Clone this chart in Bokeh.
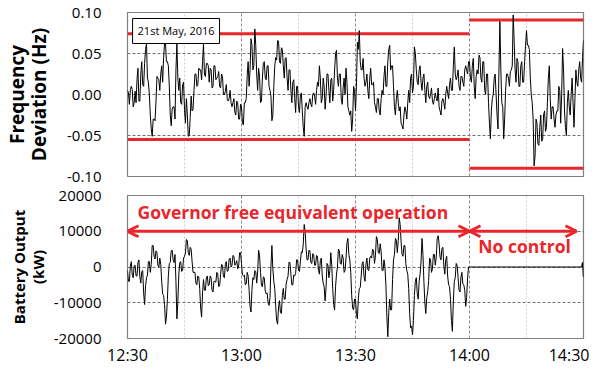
import pandas as pd
from bokeh.plotting import figure
from bokeh.layouts import column
from bokeh.models import (Range1d, FixedTicker, Label, Arrow, OpenHead,
                          NumeralTickFormatter)
from bokeh.embed import file_html
from bokeh.resources import INLINE

DATE = "2016-05-21"
tick_labels = ["12:30", "13:00", "13:30", "14:00", "14:30"]
minor_tick_labels = ["12:45", "13:15", "13:45", "14:15"]

# Frequency deviation (Hz), read at hh:mm:00 and hh:mm:30 from 12:30 to 14:30
freq_dev = [
    0.005, -0.012, 0.010, -0.015, 0.004, 0.018, -0.008, 0.025, 0.012, 0.038,
    0.062, 0.015, -0.025, -0.051, -0.030, -0.008, 0.020, 0.005, 0.035, 0.045,
    0.063, 0.040, 0.010, -0.038, -0.015, -0.030, 0.062, 0.005, -0.010, 0.012,
    -0.018, -0.005, -0.051, -0.028, -0.020, 0.005, 0.025, 0.012, 0.030, 0.018,
    0.062, 0.022, 0.038, 0.015, 0.030, 0.010, 0.035, 0.020, 0.028, 0.008,
    0.022, 0.000, 0.012, -0.008, 0.005, -0.015, -0.005, -0.025, -0.010, -0.030,
    -0.015, -0.037, -0.010, 0.023, 0.010, 0.068, 0.030, 0.080, 0.025, 0.032,
    -0.010, 0.020, 0.040, 0.018, 0.035, 0.005, -0.032, 0.010, 0.045, 0.066,
    0.040, 0.057, 0.035, 0.044, 0.020, 0.030, 0.005, 0.015, -0.005, 0.010,
    -0.015, -0.002, -0.020, -0.051, -0.010, -0.018, -0.005, -0.015, 0.002, -0.012,
    0.015, 0.035, -0.010, 0.020, -0.018, 0.025, 0.005, 0.018, -0.008, 0.030,
    0.054, 0.010, 0.025, -0.012, 0.020, 0.032, -0.015, -0.025, -0.045, 0.010,
    -0.020, 0.064, 0.078, 0.030, 0.044, 0.010, 0.025, -0.005, 0.032, 0.012,
    -0.010, -0.022, -0.005, -0.025, 0.005, 0.022, 0.010, 0.040, 0.060, 0.035,
    0.010, -0.025, 0.005, -0.020, -0.035, -0.042, -0.015, -0.030, 0.005, 0.020,
    0.002, 0.058, 0.030, 0.012, 0.035, 0.005, 0.025, -0.010, 0.015, -0.005,
    0.008, -0.012, 0.002, -0.008, -0.015, -0.025, -0.005, -0.018, 0.010, -0.005,
    0.020, 0.005, 0.058, 0.018, 0.030, 0.005, 0.022, 0.010, 0.035, 0.025,
    0.040, 0.015, 0.044, -0.005, 0.030, 0.048, 0.020, 0.040, 0.005, 0.025,
    -0.010, -0.054, -0.005, 0.020, 0.000, -0.042, 0.089, -0.010, -0.054, 0.005,
    0.025, 0.010, 0.030, 0.097, 0.030, 0.044, 0.010, 0.035, 0.015, 0.040,
    0.078, 0.060, 0.020, -0.010, -0.087, -0.030, -0.060, -0.040, -0.057, -0.025,
    -0.045, -0.010, 0.035, -0.030, -0.015, -0.040, -0.020, 0.010, -0.035, 0.056,
    -0.020, -0.050, 0.005, -0.025, 0.020, -0.040, 0.030, 0.010, 0.040, 0.015,
    0.066,
]
# Frequency deviation (Hz), read at hh:mm:15 and hh:mm:45
freq_dev_q = [
    0.002, 0.006, 0.006, -0.010, -0.010, 0.032, -0.008, 0.040, 0.010, 0.055,
    0.020, 0.000, -0.042, -0.030, -0.032, 0.022, 0.018, 0.025, 0.015, 0.062,
    0.040, 0.035, -0.025, -0.018, -0.015, 0.030, 0.020, 0.020, -0.012, 0.015,
    -0.035, -0.025, -0.050, -0.002, -0.018, 0.025, 0.010, 0.032, 0.030, 0.040,
    0.025, 0.038, 0.035, 0.032, 0.008, 0.035, 0.018, 0.022, 0.010, 0.025,
    0.000, 0.004, -0.006, -0.005, -0.010, -0.010, -0.022, -0.008, -0.030, -0.012,
    -0.035, -0.010, -0.005, 0.040, 0.030, 0.060, 0.035, 0.060, 0.005, 0.022,
    -0.008, 0.038, 0.020, 0.035, 0.010, -0.002, -0.025, 0.035, 0.042, 0.065,
    0.038, 0.055, 0.020, 0.045, 0.005, 0.030, -0.010, 0.018, -0.022, 0.010,
    -0.022, 0.002, -0.040, -0.015, -0.015, -0.010, -0.012, 0.000, -0.002, 0.005,
    0.010, 0.020, -0.005, 0.010, -0.002, 0.025, -0.010, 0.020, 0.005, 0.050,
    0.020, 0.025, -0.005, 0.008, 0.000, 0.015, -0.020, -0.020, -0.030, 0.005,
    0.010, 0.055, 0.040, 0.030, 0.020, 0.015, 0.005, 0.020, 0.012, 0.015,
    -0.015, -0.005, -0.020, -0.005, 0.000, 0.035, 0.010, 0.055, 0.030, 0.035,
    -0.015, -0.005, -0.010, -0.015, -0.038, -0.025, -0.020, -0.010, -0.010, 0.025,
    0.010, 0.050, 0.015, 0.030, 0.015, 0.020, 0.005, 0.010, -0.002, 0.000,
    -0.008, -0.005, -0.005, 0.008, -0.020, -0.008, -0.010, 0.000, 0.002, 0.012,
    0.005, 0.035, 0.025, 0.022, 0.010, 0.022, 0.015, 0.030, 0.030, 0.040,
    0.020, 0.035, 0.010, 0.022, 0.025, 0.045, 0.015, 0.040, 0.000, 0.025,
    -0.035, -0.020, 0.000, 0.025, -0.025, 0.030, 0.030, -0.015, -0.030, 0.025,
    0.020, 0.028, 0.035, 0.065, 0.015, 0.040, 0.010, 0.040, 0.015, 0.060,
    0.060, 0.055, 0.000, -0.030, -0.075, -0.035, -0.062, -0.025, -0.055, -0.020,
    -0.040, 0.020, -0.005, -0.015, -0.030, -0.025, -0.020, 0.005, 0.000, 0.030,
    -0.040, -0.010, -0.015, 0.000, -0.010, -0.005, 0.015, 0.030, 0.020, 0.045,
]

# Battery output (kW), read at hh:mm:00 and hh:mm:30 from 12:30 to 14:00
batt_out = [
    -1000, -4000, 1500, -3000, 500, -2500, 2000, -4500, -1000, -10500,
    -3000, 1500, -1500, 6000, 3000, 4500, 500, 2500, -4000, -8000,
    -16000, -9000, 1000, 4500, 2000, 3500, -14500, -2000, 1500, -1000,
    3000, 7700, 4000, 5500, 1500, -1500, -4500, -2500, -6000, -14000,
    -3500, -6500, -2500, -5000, -3000, -7000, -4000, -1500, -5500, -2000,
    500, -3000, 1500, -1000, 2500, 500, 3000, 1000, -500, 4000,
    1000, -2500, -5000, -1500, -6500, -12600, -3000, -1000, -4500, 4700,
    -1500, -5500, -3000, -7500, -10000, -8500, 6000, -4000, -11000, -16000,
    -9400, -13000, -6000, -9000, -3500, 1400, -2000, -5000, -2500, 2000,
    -1000, 1500, 4000, 11900, 5000, 2000, 4500, 1000, 3500, 500,
    3000, -2000, 2500, -4500, -9500, 1000, -3000, 4000, -6000, -12000,
    -2000, 5000, 1000, 3500, -1500, 2500, 8000, 2000, -8000, -12000,
    -9000, -14500, -6000, -2500, 1500, -4000, 2500, -1000, 3000, 5000,
    1000, 8500, 4000, 6500, -1000, 2000, -5000, -19500, -9000, -12000,
    2000, 8000, 4000, 13800, 7000, 3000, 6000, -1000, -6000, -17000,
    -19000, -8000, -3000, -9000, -2000, 8000, -4000, -13000, -7000, 2500,
    -1500, 3500, 500, 8000, 6500, 2000, 5500, -2000, 3000, -5000,
    -9000, -18000, -4000, 1000, -3000, -7000, -1500, -5000, -11000, -3000,
    0,
]
# Battery output (kW), read at hh:mm:15 and hh:mm:45
batt_out_q = [
    -4000, 250, -2250, 250, -2500, 1250, -2750, -1250, -7250, -5250,
    -2250, 1500, 750, 6000, 2250, 4000, 0, 750, -7500, -10500,
    -14000, -2500, 1250, 4750, 1250, -4000, -9750, 1250, -1250, 2500,
    3850, 7350, 3250, 5000, -1500, -1500, -5000, -2750, -11500, -7250,
    -6500, -3000, -5250, -2500, -6500, -4000, -4250, -2000, -5250, 750,
    -2750, 750, -1250, 2250, 0, 3250, 500, 1750, 250, 4000,
    -2250, -2250, -4750, -2500, -11050, -6300, -3500, -1250, -1400, 3100,
    -5000, -2750, -6750, -7250, -10750, 250, -500, -6000, -15000, -11200,
    -12700, -8000, -9000, -4750, -2550, 1200, -5000, -2250, -1750, 2000,
    -1250, 4250, 6450, 9950, 2000, 4750, 1250, 3750, 500, 3250,
    -1000, 1750, -2500, -5500, -5750, 500, -1000, 500, -10500, -5500,
    0, 4500, 750, 2500, -1000, 6750, 3500, -1500, -11500, -9000,
    -13250, -8750, -5750, 1000, -2750, 750, -750, 2500, 2500, 4500,
    3250, 7750, 3750, 4250, -1000, 0, -13750, -12750, -12000, -3500,
    3500, 7500, 7400, 11900, 3500, 6000, 1000, -2000, -13000, -16500,
    -15000, -4000, -7500, -4000, 1500, 3500, -10000, -8500, -3750, 2000,
    -500, 3500, 2750, 8750, 2750, 5250, 250, 2000, -2500, -5500,
    -15000, -9500, -3000, 500, -6500, -2750, -4750, -6500, -8500, 0,
]

# Battery output with no control (14:00 to 14:30)
nc_times = ["14:00:00", "14:29:30", "14:29:45", "14:30:00"]
nc_out = [0, 0, 1300, -2800]

# Frequency limits in each period
gf_period = ["12:30", "14:00"]
gf_upper, gf_lower = 0.074, -0.055
nc_period = ["14:00", "14:30"]
nc_upper, nc_lower = 0.091, -0.090

freq_ticks = [-0.10, -0.05, 0.00, 0.05, 0.10]
batt_ticks = [-20000, -10000, 0, 10000, 20000]

RED = "#e8262b"
FONT = "Open Sans"


def ms(hhmm):
    return pd.Timestamp(f"{DATE} {hhmm}").value / 1e6


def merged(main, quarter):
    t_main = pd.date_range(f"{DATE} 12:30:00", periods=len(main), freq="30s")
    t_q = pd.date_range(f"{DATE} 12:30:15", periods=len(quarter), freq="30s")
    s = pd.concat([pd.Series(main, index=t_main), pd.Series(quarter, index=t_q)])
    s = s.sort_index()
    return s.index, s.values


freq_t, freq_v = merged(freq_dev, freq_dev_q)
batt_t, batt_v = merged(batt_out, batt_out_q)
nc_t = [pd.Timestamp(f"{DATE} {t}") for t in nc_times]

major_ms = [ms(t) for t in tick_labels]
minor_ms = [ms(t) for t in minor_tick_labels]


def style(p, yticks, ygrid_ticks, label, label_size, label_standoff, line_h):
    p.xgrid.ticker = FixedTicker(ticks=major_ms, minor_ticks=minor_ms)
    p.xgrid.grid_line_color = "#8c8c8c"
    p.xgrid.grid_line_dash = "3 2"
    p.xgrid.minor_grid_line_color = "#cfcfcf"
    p.xgrid.minor_grid_line_dash = "2 2"
    p.ygrid.ticker = FixedTicker(ticks=ygrid_ticks)
    p.ygrid.grid_line_color = "#707070"
    p.ygrid.grid_line_dash = "3 2"
    p.outline_line_color = "#7f7f7f"
    p.outline_line_width = 1.2
    p.yaxis.ticker = FixedTicker(ticks=yticks)
    p.yaxis.axis_line_color = None
    p.yaxis.major_tick_line_color = None
    p.yaxis.minor_tick_line_color = None
    p.yaxis.major_tick_out = 0
    p.yaxis.major_tick_in = 0
    p.yaxis.major_label_standoff = 26
    p.yaxis.major_label_text_font = FONT
    p.yaxis.major_label_text_font_size = "15px"
    p.yaxis.major_label_text_color = "black"
    p.yaxis.axis_label = label
    p.yaxis.axis_label_text_font = FONT
    p.yaxis.axis_label_text_font_style = "bold"
    p.yaxis.axis_label_text_font_size = label_size
    p.yaxis.axis_label_text_line_height = line_h
    p.yaxis.axis_label_text_color = "black"
    p.yaxis.axis_label_standoff = label_standoff
    p.background_fill_color = "white"
    p.border_fill_color = "white"


xr = Range1d(start=ms("12:30"), end=ms("14:30"))

# ---------------- top panel ----------------
p1 = figure(frame_width=456, frame_height=164, x_range=xr, y_range=Range1d(-0.10, 0.10),
            output_backend="svg", toolbar_location=None,
            min_border_left=120, min_border_right=11,
            min_border_top=12, min_border_bottom=10)
p1.xaxis.visible = False
style(p1, freq_ticks, [-0.05, 0.0, 0.05], "Frequency\nDeviation (Hz)", "19px", 12, 0.85)
p1.yaxis.formatter = NumeralTickFormatter(format="0.00")

p1.line([ms(t) for t in gf_period], [gf_upper] * 2, color=RED, line_width=3)
p1.line([ms(t) for t in gf_period], [gf_lower] * 2, color=RED, line_width=3)
p1.line([ms(t) for t in nc_period], [nc_upper] * 2, color=RED, line_width=3)
p1.line([ms(t) for t in nc_period], [nc_lower] * 2, color=RED, line_width=3)
p1.line(freq_t, freq_v, color="black", line_width=1.0)

p1.add_layout(Label(x=ms("12:31:20"), y=0.0927, text="21st May, 2016",
                    text_font=FONT, text_font_size="11px", text_color="black",
                    text_align="left", text_baseline="top",
                    border_line_color="black", border_line_width=1,
                    background_fill_color="white", background_fill_alpha=1,
                    padding=5))

# ---------------- bottom panel ----------------
p2 = figure(frame_width=456, frame_height=143, x_range=xr, y_range=Range1d(-20000, 20000),
            output_backend="svg", toolbar_location=None,
            min_border_left=120, min_border_right=11,
            min_border_top=9, min_border_bottom=24)
style(p2, batt_ticks, [-10000, 0, 10000], "Battery Output\n(kW)", "15px", 3, 0.95)
p2.yaxis.formatter = NumeralTickFormatter(format="0")
p2.xaxis.ticker = FixedTicker(ticks=major_ms)
p2.xaxis.major_label_overrides = {m: lab for m, lab in zip(major_ms, tick_labels)}
p2.xaxis.axis_line_color = None
p2.xaxis.major_tick_line_color = None
p2.xaxis.minor_tick_line_color = None
p2.xaxis.major_tick_out = 0
p2.xaxis.major_tick_in = 0
p2.xaxis.major_label_standoff = 5
p2.xaxis.major_label_text_font = FONT
p2.xaxis.major_label_text_font_size = "16px"
p2.xaxis.major_label_text_color = "black"

p2.line(batt_t, batt_v, color="black", line_width=1.0)
p2.line(nc_t, nc_out, color="black", line_width=1.2)

head = dict(size=11, line_color=RED, line_width=3)
p2.add_layout(Arrow(start=OpenHead(**head), end=OpenHead(**head),
                    x_start=ms("12:30"), y_start=10000, x_end=ms("14:00"), y_end=10000,
                    line_color=RED, line_width=3))
p2.add_layout(Arrow(start=OpenHead(**head), end=OpenHead(**head),
                    x_start=ms("14:00"), y_start=10000, x_end=ms("14:28:10"), y_end=10000,
                    line_color=RED, line_width=3))
p2.add_layout(Label(x=ms("13:13:30"), y=15500, text="Governor free equivalent operation",
                    text_font=FONT, text_font_style="bold", text_font_size="17.5px",
                    text_color=RED, text_align="center", text_baseline="middle"))
p2.add_layout(Label(x=ms("14:14:30"), y=6000, text="No control",
                    text_font=FONT, text_font_style="bold", text_font_size="17.5px",
                    text_color=RED, text_align="center", text_baseline="middle"))

layout = column(p1, p2, spacing=0)
open("out.html", "w").write(file_html(layout, INLINE))
